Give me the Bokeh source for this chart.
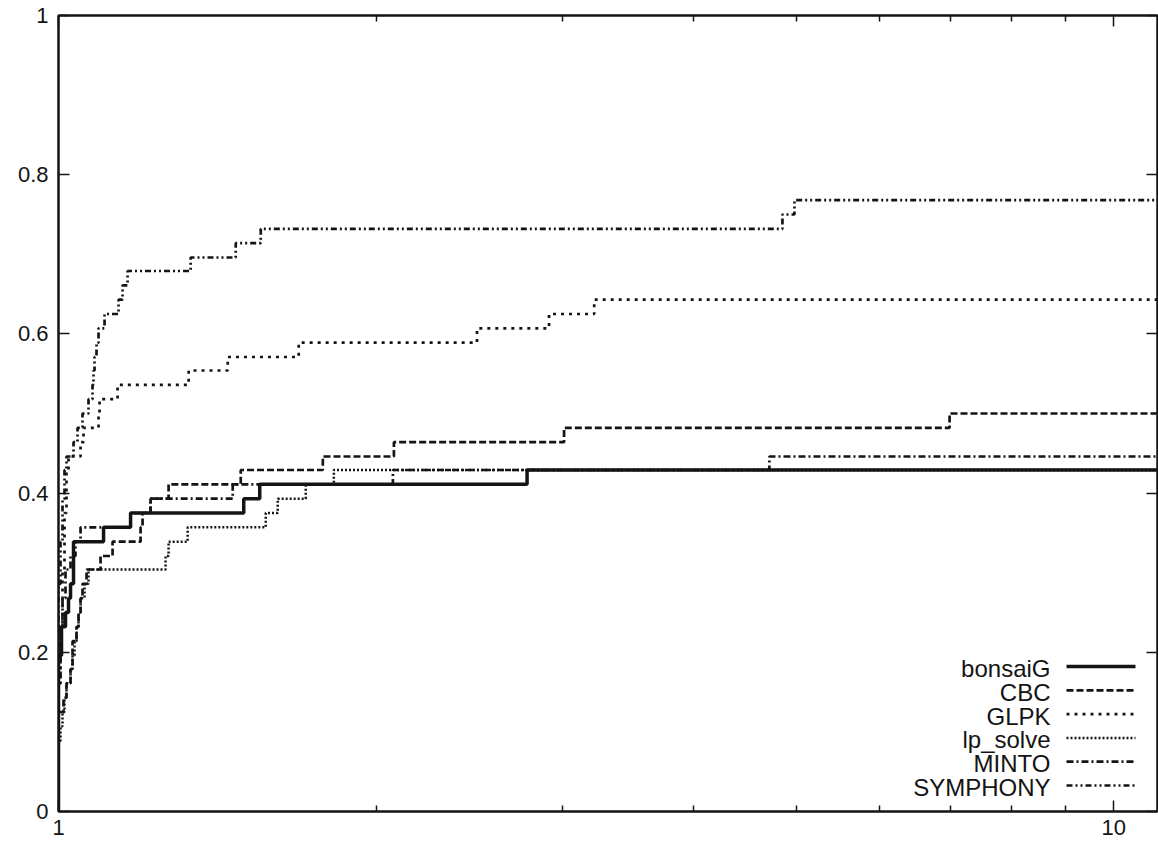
from bokeh.plotting import figure
from bokeh.models import (FixedTicker, LinearAxis, LogAxis, Label, Arrow, Range1d,
                          CustomJSTickFormatter)
from bokeh.embed import file_html
from bokeh.resources import INLINE

# ---- data (performance profile) ----
bonsaig_x = [1.0, 1.0, 1.0066, 1.0154, 1.0221, 1.0266, 1.0333, 1.1033, 1.1703, 1.4981, 1.5513, 2.7798, 11]
bonsaig_y = [0.0, 0.196, 0.232, 0.25, 0.268, 0.286, 0.339, 0.357, 0.375, 0.393, 0.411, 0.429, 0.429]

cbc_x = [1.0, 1.0, 1.011, 1.0176, 1.0266, 1.0311, 1.0401, 1.0447, 1.0493, 1.0538, 1.0631, 1.0961,
         1.1252, 1.1961, 1.2013, 1.2225, 1.2715, 1.4883, 1.7802, 2.0789, 3.0135, 6.9884, 11]
cbc_y = [0.0, 0.125, 0.143, 0.161, 0.179, 0.214, 0.232, 0.25, 0.268, 0.286, 0.304, 0.321,
         0.339, 0.357, 0.375, 0.393, 0.411, 0.429, 0.446, 0.464, 0.482, 0.5, 0.5]

glpk_x = [1.0, 1.0, 1.0044, 1.0088, 1.0132, 1.0176, 1.0221, 1.0493, 1.0561, 1.0913, 1.0937,
          1.1376, 1.3284, 1.4466, 1.6890, 2.4920, 2.9163, 3.2183, 11]
glpk_y = [0.0, 0.161, 0.232, 0.304, 0.375, 0.429, 0.446, 0.464, 0.482, 0.5, 0.518,
          0.536, 0.554, 0.571, 0.589, 0.607, 0.625, 0.643, 0.643]

lpsolve_x = [1.0, 1.0, 1.0044, 1.0088, 1.0132, 1.0176, 1.0266, 1.0311, 1.0356, 1.0401, 1.0447,
             1.0493, 1.0585, 1.0677, 1.2632, 1.2715, 1.3255, 1.5717, 1.6134, 1.7150, 1.8235, 11]
lpsolve_y = [0.0, 0.089, 0.107, 0.125, 0.143, 0.161, 0.179, 0.196, 0.214, 0.232, 0.25,
             0.268, 0.286, 0.304, 0.321, 0.339, 0.357, 0.375, 0.393, 0.411, 0.429, 0.429]

minto_x = [1.0, 1.0, 1.0044, 1.0088, 1.0154, 1.0266, 1.0378, 1.0493, 1.1703, 1.2225, 1.4625,
           2.0743, 4.7167, 11]
minto_y = [0.0, 0.161, 0.232, 0.268, 0.304, 0.321, 0.339, 0.357, 0.375, 0.393, 0.411,
           0.429, 0.446, 0.446]

symphony_x = [1.0, 1.0, 1.0044, 1.0088, 1.0132, 1.0176, 1.0333, 1.0424, 1.0538, 1.0677, 1.0771,
              1.0794, 1.0818, 1.0865, 1.0913, 1.1057, 1.1400, 1.1500, 1.1627, 1.3342, 1.4721,
              1.5547, 4.8527, 4.9818, 11]
symphony_y = [0.0, 0.286, 0.339, 0.393, 0.429, 0.446, 0.464, 0.482, 0.5, 0.518, 0.536,
              0.554, 0.571, 0.589, 0.607, 0.625, 0.643, 0.661, 0.679, 0.696, 0.714,
              0.732, 0.75, 0.768, 0.768]

series_names = ["bonsaiG", "CBC", "GLPK", "lp_solve", "MINTO", "SYMPHONY"]
x_ticks = [1, 10]
x_minor_ticks = [2, 3, 4, 5, 6, 7, 8, 9]
y_ticks = [0, 0.2, 0.4, 0.6, 0.8, 1]

FONT = "Liberation Sans"
INK = "#141414"

p = figure(width=1158, height=845, x_axis_type="log",
           x_range=Range1d(1, 11), y_range=Range1d(0, 1),
           output_backend="svg", toolbar_location=None,
           min_border_left=58, min_border_right=1, min_border_top=15, min_border_bottom=34)
p.grid.visible = False
p.background_fill_color = "white"
p.border_fill_color = "white"
p.outline_line_color = INK
p.outline_line_width = 2

fmt = CustomJSTickFormatter(code="return String(tick);")
blank = CustomJSTickFormatter(code="return '';")

def style_axis(ax, labels=True):
    ax.axis_line_color = INK
    ax.axis_line_width = 2
    ax.major_tick_line_color = INK
    ax.minor_tick_line_color = INK
    ax.major_tick_line_width = 1.5
    ax.minor_tick_line_width = 1.5
    ax.major_tick_in = 11
    ax.major_tick_out = 0
    ax.minor_tick_in = 6
    ax.minor_tick_out = 0
    if labels:
        ax.major_label_text_font = FONT
        ax.major_label_text_font_size = "22px"
        ax.major_label_text_color = INK
        ax.formatter = fmt
    else:
        ax.major_label_text_font_size = "0px"
        ax.formatter = blank
        ax.major_label_standoff = 0

xt = FixedTicker(ticks=x_ticks, minor_ticks=x_minor_ticks)
yt = FixedTicker(ticks=y_ticks, minor_ticks=[])

p.xaxis.ticker = xt
p.yaxis.ticker = yt
style_axis(p.xaxis[0])
style_axis(p.yaxis[0])
p.xaxis.major_label_standoff = 8
p.yaxis.major_label_standoff = 10

top = LogAxis(ticker=FixedTicker(ticks=x_ticks, minor_ticks=x_minor_ticks))
style_axis(top, labels=False)
p.add_layout(top, "above")
right = LinearAxis(ticker=FixedTicker(ticks=y_ticks, minor_ticks=[]))
style_axis(right, labels=False)
p.add_layout(right, "right")

styles = [
    (bonsaig_x, bonsaig_y, "solid", 3.5),
    (cbc_x, cbc_y, "7 3", 2.7),
    (glpk_x, glpk_y, "3 5", 2.7),
    (lpsolve_x, lpsolve_y, "2 2", 2.5),
    (minto_x, minto_y, "7 3 2 3", 2.7),
    (symphony_x, symphony_y, "6 3 2 3 2 3", 2.7),
]

for xs, ys, dash, w in styles:
    p.step(x=xs, y=ys, mode="after", line_color=INK, line_width=w, line_dash=dash)

# ---- legend (gnuplot style: label right-aligned, sample to the right) ----
for i, (name, (_, _, dash, w)) in enumerate(zip(series_names, styles)):
    yrow = 143 - 23.8 * i
    p.add_layout(Label(x=992, y=yrow, x_units="screen", y_units="screen", text=name,
                       text_align="right", text_baseline="middle", text_font=FONT,
                       text_font_size="24px", text_color=INK))
    p.add_layout(Arrow(x_start=1008, y_start=yrow + 2, x_end=1077, y_end=yrow + 2,
                       start_units="screen", end_units="screen", start=None, end=None,
                       line_color=INK, line_width=w, line_dash=dash))

open("out.html", "w").write(file_html(p, INLINE))
